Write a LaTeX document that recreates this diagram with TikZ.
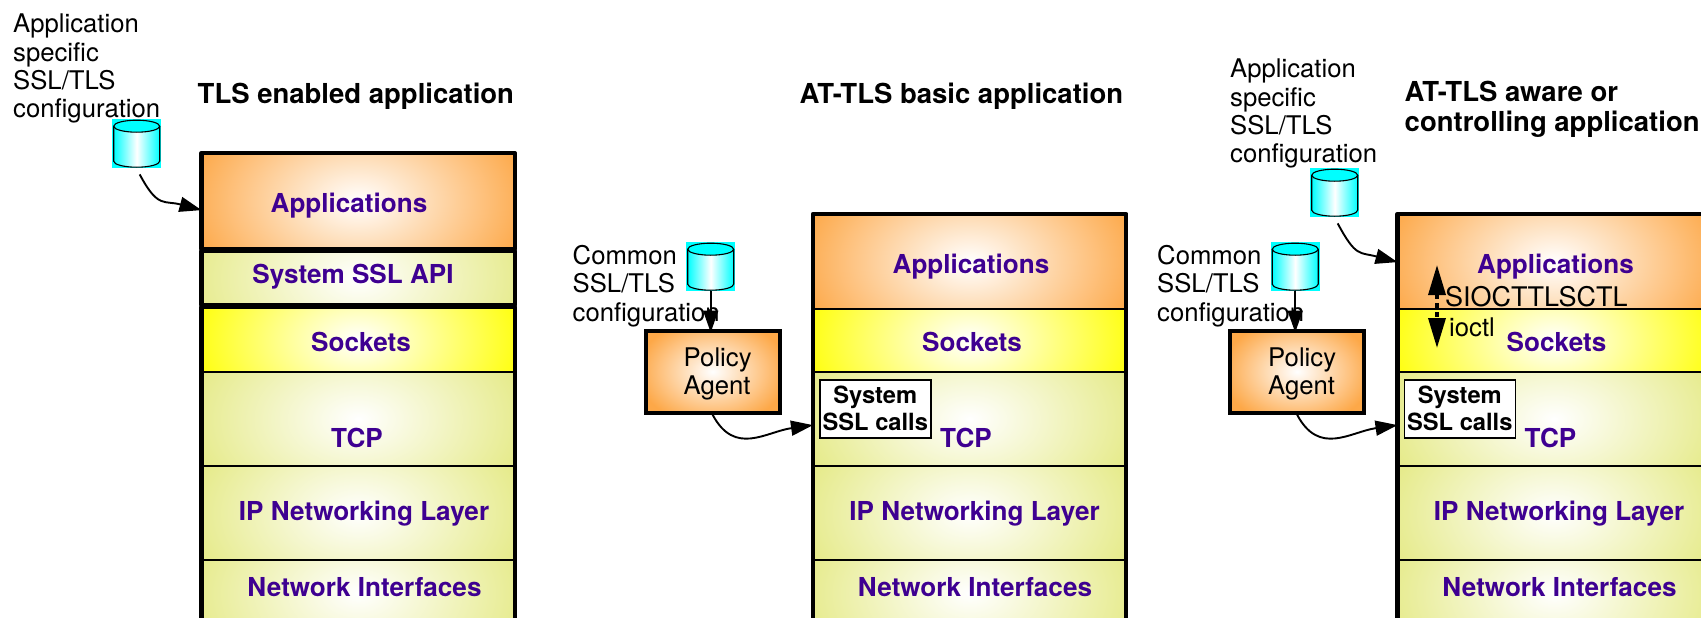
\documentclass[tikz,border=0pt]{standalone}
\usepackage{fontspec}
\setmainfont{TeX Gyre Heros}
\usetikzlibrary{arrows.meta}
\definecolor{layerorange}{RGB}{253,168,72}
\definecolor{layergreen}{RGB}{229,234,135}
\definecolor{layeryellow}{RGB}{255,255,0}
\definecolor{layerpurple}{RGB}{62,0,145}
\definecolor{dbcyan}{RGB}{0,255,255}
\pgfdeclareradialshading{gloworange}{\pgfpoint{0bp}{0bp}}{color(0bp)=(white); color(28bp)=(layerorange); color(50bp)=(layerorange)}
\pgfdeclareradialshading{glowgreen}{\pgfpoint{0bp}{0bp}}{color(0bp)=(white); color(28bp)=(layergreen); color(50bp)=(layergreen)}
\pgfdeclareradialshading{glowyellow}{\pgfpoint{0bp}{0bp}}{color(0bp)=(white); color(28bp)=(layeryellow); color(50bp)=(layeryellow)}
\tikzset{
	layer/.style={draw=black, line width=2.2pt, anchor=north west, minimum width=311pt, inner sep=0pt, path picture={
		\begin{scope}[shift={(path picture bounding box.center)}]
			\shade[shading=#1] (-156pt, -101pt) rectangle (156pt, 101pt);
		\end{scope}
	}},
	layerlabel/.style={text=layerpurple, font=\fontsize{26.1}{28}\selectfont\bfseries, inner sep=0pt},
	heading/.style={font=\fontsize{27.5}{30}\selectfont\bfseries, align=left, anchor=north west, inner sep=0pt},
	note/.style={font=\fontsize{25.7}{28.3}\selectfont, align=left, anchor=north west, inner sep=0pt},
	frame/.style={draw=black, line width=4.4pt, line join=round},
	flow/.style={draw=black, line width=1.9pt, -{Triangle[length=22pt,width=15pt]}},
	dbcyl/.style={fill=dbcyan, anchor=north west, minimum size=49pt, inner sep=0pt, path picture={
		\begin{scope}[shift={(path picture bounding box.center)}]
			\shade[left color=dbcyan, right color=dbcyan, middle color=white] (-23pt, 17.5pt) -- (23pt, 17.5pt) -- (23pt, -17.5pt) arc[start angle=360, end angle=180, x radius=23pt, y radius=6pt] -- cycle;
			\draw[line width=1.1pt] (-23pt, 17.5pt) -- (-23pt, -17.5pt) arc[start angle=180, end angle=360, x radius=23pt, y radius=6pt] -- (23pt, 17.5pt);
			\draw[line width=1.1pt, fill=dbcyan] (0pt, 17.5pt) ellipse[x radius=23pt, y radius=6pt];
		\end{scope}
	}},
	sslbox/.style={draw=black, fill=white, line width=1.6pt, anchor=north west, minimum width=111pt, minimum height=58pt, inner sep=0pt, align=center, font=\fontsize{23.7}{27}\selectfont\bfseries},
	agent/.style={draw=black, line width=4.2pt, anchor=north west, minimum width=134pt, minimum height=82pt, inner sep=0pt, path picture={
		\begin{scope}[shift={(path picture bounding box.center)}]
			\shade[shading=gloworange] (-67pt, -48pt) rectangle (67pt, 48pt);
		\end{scope}
	}}
}

\begin{document}
\begin{tikzpicture}[x=1pt, y=-1pt]
	\useasboundingbox (0, 0) rectangle (1701, 618);
	\clip (0, 0) rectangle (1701, 618);

	% TLS enabled application
	\node[note] (cfgone) at (13, 14) {Application\\specific\\SSL/TLS\\configuration};
	\node[dbcyl] (dbone) at (112, 119) {};
	\node[heading] (titleone) at (197.5, 83) {TLS enabled application};
	\node[layer=gloworange, minimum height=94pt] (appsone) at (201.5, 153) {};
	\node[layer=glowgreen, minimum height=52pt] (sslone) at (201.5, 251) {};
	\node[layer=glowyellow, minimum height=64pt] (sockone) at (201.5, 307) {};
	\node[layer=glowgreen, minimum height=94pt] (tcpone) at (201.5, 371) {};
	\node[layer=glowgreen, minimum height=94pt] (ipone) at (201.5, 465) {};
	\node[layer=glowgreen, minimum height=66pt] (nione) at (201.5, 559) {};
	\draw[frame] (appsone.north west) rectangle (appsone.south east);
	\draw[frame] (sslone.north west) rectangle (sslone.south east);
	\draw[frame] (sockone.north west) rectangle (nione.south east);
	\node[layerlabel] (appsonetext) at (349, 206) {Applications};
	\node[layerlabel] (sslonetext) at (353, 277) {System SSL API};
	\node[layerlabel] (sockonetext) at (361, 342) {Sockets};
	\node[layerlabel] (tcponetext) at (357, 438) {TCP};
	\node[layerlabel] (iponetext) at (364, 514) {IP Networking Layer};
	\node[layerlabel] (nionetext) at (364.5, 587) {Network Interfaces};
	\draw[flow] ([xshift=3pt, yshift=-6pt]dbone.south) to[out=-62, in=165, looseness=1.4] ([yshift=-9pt]appsone.west);

	% AT-TLS basic application and AT-TLS aware application share their stack
	\foreach \st/\ox in {two/0, three/584.5} {
		\begin{scope}[xshift=\ox pt]
			\node[note] (common\st) at (572.5, 245) {Common\\SSL/TLS\\configuration};
			\node[dbcyl] (db\st) at (686, 242) {};
			\node[agent] (policy\st) at (643.5, 328.5) {};
			\node[note, font=\fontsize{25.7}{27.5}\selectfont] (policy\st text) at (683.5, 348) {Policy\\Agent};
			\node[layer=gloworange, minimum height=94pt] (apps\st) at (813, 214) {};
			\node[layer=glowyellow, minimum height=63pt] (sock\st) at (813, 308) {};
			\node[layer=glowgreen, minimum height=94pt] (tcp\st) at (813, 371) {};
			\node[layer=glowgreen, minimum height=94pt] (ip\st) at (813, 465) {};
			\node[layer=glowgreen, minimum height=66pt] (ni\st) at (813, 559) {};
			\draw[frame] (apps\st.north west) rectangle (ni\st.south east);
			\node[layerlabel] (apps\st text) at (971, 267) {Applications};
			\node[layerlabel] (sock\st text) at (972, 342) {Sockets};
			\node[layerlabel] (tcp\st text) at (966, 438) {TCP};
			\node[layerlabel] (ip\st text) at (974.5, 514) {IP Networking Layer};
			\node[layerlabel] (ni\st text) at (975, 587) {Network Interfaces};
			\node[sslbox] (ssl\st) at (819, 379) {System\\SSL calls};
			\draw[flow] (db\st.south) -- ([yshift=-4pt]db\st.south |- policy\st.north);
			\draw[flow] (policy\st.south) to[out=-62, in=188, looseness=1.2] ([yshift=-6pt]tcp\st.west);
		\end{scope}
	}

	\node[heading] (titletwo) at (799.5, 83) {AT-TLS basic application};
	\node[heading] (titlethree) at (1404.5, 81) {AT-TLS aware or\\controlling application};

	% control path of the aware application
	\node[note] (cfgthree) at (1230, 59) {Application\\specific\\SSL/TLS\\configuration};
	\node[dbcyl] (dbapp) at (1310, 168) {};
	\draw[flow] ([xshift=3pt, yshift=-6pt]dbapp.south) to[out=-62, in=165, looseness=1.4] (appsthree.west);
	\node[note, font=\fontsize{27}{28}\selectfont] (sioctext) at (1445, 286) {SIOCTTLSCTL};
	\node[note] (ioctltext) at (1449, 318) {ioctl};
	\coordinate (ioctltop) at (1437, 265);
	\coordinate (ioctlbottom) at (1437, 348);
	\draw[line width=3.5pt, dash pattern=on 5pt off 4pt, {Triangle[length=30pt,width=17pt]}-{Triangle[length=30pt,width=17pt]}] (ioctltop) -- (ioctlbottom);

\end{tikzpicture}
\end{document}
